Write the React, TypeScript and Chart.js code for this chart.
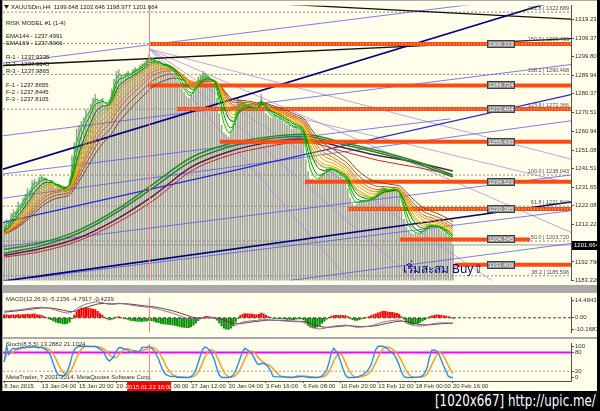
import React, { useEffect, useRef } from 'react';
import { Chart, registerables } from 'chart.js';

Chart.register(...registerables);

const FONT = '"Liberation Sans", Arial, sans-serif';
const CREAM = '#FFFFEC';

// XAUUSDm H4 closes, 8 Jan 2015 – 20 Feb 2015 16:00
const closes: number[] = [
  1213, 1215, 1214, 1218, 1220, 1219, 1224, 1223, 1226, 1228,
  1231, 1230, 1235, 1236, 1234, 1237, 1238, 1236, 1236, 1234,
  1235, 1233, 1231, 1232, 1231, 1229, 1231, 1232, 1236, 1248,
  1255, 1262, 1264, 1266, 1268, 1272, 1271, 1275, 1278, 1280,
  1277, 1276, 1278, 1274, 1275, 1277, 1283, 1288, 1292, 1293,
  1290, 1289, 1291, 1292, 1290, 1293, 1294, 1293, 1295, 1296,
  1297, 1298, 1301, 1299, 1298, 1296, 1297, 1295, 1294, 1295,
  1294, 1293, 1291, 1290, 1287, 1285, 1283, 1281, 1279, 1278,
  1280, 1282, 1286, 1289, 1290, 1292, 1291, 1289, 1287, 1286,
  1285, 1278, 1270, 1264, 1260, 1259, 1258, 1261, 1265, 1272,
  1278, 1277, 1276, 1275, 1273, 1274, 1273, 1272, 1272, 1276,
  1280, 1274, 1270, 1269, 1268, 1268, 1269, 1267, 1267, 1266,
  1265, 1264, 1264, 1262, 1262, 1263, 1262, 1261, 1256, 1246,
  1240, 1236, 1236, 1235, 1235, 1237, 1239, 1240, 1241, 1242,
  1242, 1240, 1239, 1238, 1237, 1236, 1236, 1231, 1226, 1223,
  1222, 1223, 1224, 1224, 1225, 1224, 1225, 1226, 1227, 1228,
  1230, 1231, 1232, 1231, 1230, 1230, 1231, 1231, 1230, 1227,
  1221, 1215, 1211, 1209, 1208, 1207, 1208, 1207, 1208, 1209,
  1210, 1212, 1213, 1212, 1211, 1212, 1210, 1209, 1208, 1207,
  1206, 1204, 1201.664,
];
const lastPrice = 1201.664;
// averages carried in from the bars before 8 Jan
const priorRibbon = 1207;
const priorEma12 = 1206;
const priorEma26 = 1200.5;
const priorSignal = 4.6;

// time axis
const timeTickIdx = [0, 16, 32, 48, 64, 80, 96, 112, 128, 144, 160, 176, 192];
const timeTickLabels = [
  '8 Jan 2015', '13 Jan 04:00', '15 Jan 20:00', '20 Jan 12:00', '23 Jan 00:00',
  '27 Jan 12:00', '30 Jan 04:00', '3 Feb 16:00', '6 Feb 08:00', '10 Feb 20:00',
  '13 Feb 12:00', '18 Feb 00:00', '20 Feb 16:00',
];
const cursorIdx = 62;
const cursorLabel = '2015.01.22 16:00';

// price axis
const priceMin = 1183.2;
const priceMax = 1326.28;
const priceTicks = [
  1319.23, 1309.37, 1299.8, 1289.94, 1280.37, 1270.51, 1260.94, 1251.08,
  1241.51, 1231.65, 1222.08, 1212.22, 1192.79, 1183.22,
];

// slow moving averages, sampled every 16 bars
const slowIdx = [0, 16, 32, 48, 64, 80, 96, 112, 128, 144, 160, 176, 192];
const slowGreenA = [1199.3, 1202.8, 1209.4, 1220.0, 1233.6, 1247.2, 1254.2, 1257.8, 1259.3, 1255.3, 1250.7, 1245.2, 1238.1];
const slowGreenB = [1197.3, 1201.3, 1207.9, 1218.5, 1231.6, 1245.2, 1252.7, 1256.8, 1258.3, 1254.2, 1249.7, 1244.2, 1237.1];
const slowMaroon = [1196.3, 1199.8, 1205.4, 1215.0, 1227.5, 1242.2, 1250.2, 1254.8, 1256.8, 1252.7, 1248.2, 1244.7, 1240.1];
const slowRed = [1195.3, 1198.3, 1203.9, 1213.0, 1225.0, 1240.1, 1248.2, 1252.7, 1255.3, 1250.7, 1245.7, 1242.2, 1238.1];

// fast EMA ribbon
const ribbonPeriods = [3, 5, 8, 10, 12, 15, 18, 21, 25, 30];
const ribbonColors = ['#00D000', '#00A000', '#007000', '#A8A800', '#D8B000', '#F0A000', '#F08000', '#D86800', '#B85010', '#8B4513'];

// support / resistance levels
const levelPrices = [1306.319, 1284.724, 1272.404, 1255.43, 1234.521, 1220.385, 1204.545, 1191.409];
const levelStart = [62.4, 61.5, 73.9, 92.3, 128.7, 147.1, 169.4, 192.9];
const levelEnd = [242.5, 242.5, 242.5, 242.5, 242.5, 242.5, 225, 242.5];
const levelDotted = [true, false, true, false, false, true, false, false];

// fibonacci levels
const fibPrices = [1322.889, 1306.496, 1290.468, 1272.366, 1238.043, 1221.844, 1203.72, 1185.596];
const fibTags = ['161.8', '150.0', '138.2', '123.6', '100.0', '61.8', '50.0', '38.2'];

// trend lines: [bar1, price1, bar2, price2]
const navyLines = [[-0.5, 1241.1, 242.5, 1331.2], [-0.5, 1182.8, 242.5, 1224.0]];
const blackLines = [[-2, 1295.0, 242.5, 1309.1], [110, 1327.6, 242.5, 1319.2]];
const blueLines = [
  [-1.8, 1296.1, 242.5, 1333.4], [-1.8, 1258.3, 242.5, 1295.6], [-0.5, 1238.6, 190.8, 1267.3],
  [-0.5, 1226.0, 242.5, 1266.3], [-0.5, 1200.8, 242.5, 1238.1], [12, 1184.5, 242.5, 1219.5],
  [122.3, 1183.2, 242.5, 1202.4],
];
const steepBlueLines = [[-0.5, 1213.4, 242.5, 1279.9]];
const violetLines = [
  [62.4, 1303.6, 242.5, 1246.3], [62.4, 1303.6, 242.5, 1208.2], [62.4, 1303.6, 211.6, 1180.7],
  [62.4, 1303.6, 178.3, 1180.7], [62.4, 1303.6, 149.3, 1180.7], [96.6, 1276.4, 242.5, 1233.6],
];

// header block
const headerLines = [
  'RISK MODEL #1 (1-4)', 'EMA144 - 1237.4991', 'EMA169 - 1237.8966',
  'R-1 - 1237.9335', 'R-2 - 1237.9545', 'R-3 - 1237.9865',
  'F-1 - 1237.8655', 'F-2 - 1237.8445', 'F-3 - 1237.8105',
];
const headerY = [22, 35, 42, 56, 63, 70, 84, 91, 98];
const symbolLine = 'XAUUSDm,H4  1199.648 1202.646 1198.977 1201.664';
const noteText = 'เริ่มสะสม Buy⇧';

// sub windows
const macdMin = -12.4;
const macdMax = 17.2;
const macdTicks = [-10.1687, 0, 14.4843];
const macdTickLabels = ['-10.1687', '0.00', '14.4843'];
const macdTitle = 'MACD(12,26,9) -5.2156 -4.7917 -0.4239';
const histGain = 3;
const stochTicks = [0, 20, 80, 100];
const stochK_period = 8;
const stochSlowing = 5;
const stochD_period = 5;
const stochTitle = 'Stoch(8,5,5) 13.2882 21.1024';
const copyright = 'MetaTrader, ? 2001-2014, MetaQuotes Software Corp.';

const X_MIN = -0.5;
const X_MAX = 242.5;

function ema(src: number[], period: number, seed: number): number[] {
  const k = 2 / (period + 1);
  let prev = seed;
  return src.map((v) => {
    prev = v * k + prev * (1 - k);
    return prev;
  });
}
function sma(src: number[], period: number): number[] {
  return src.map((_, i) => {
    const win = src.slice(Math.max(0, i - period + 1), i + 1);
    return win.reduce((s, v) => s + v, 0) / win.length;
  });
}

// MACD(12,26,9)
const ema12 = ema(closes, 12, priorEma12);
const ema26 = ema(closes, 26, priorEma26);
const macdMain = ema12.map((v, i) => v - ema26[i]);
const macdSignal = ema(macdMain, 9, priorSignal);
const macdHist = macdMain.map((v, i) => (v - macdSignal[i]) * histGain);

// Stochastic on closes
const rawNum: number[] = [];
const rawDen: number[] = [];
closes.forEach((c, i) => {
  const win = closes.slice(Math.max(0, i - stochK_period + 1), i + 1);
  const lo = Math.min(...win);
  rawNum.push(c - lo);
  rawDen.push(Math.max(...win) - lo);
});
const numS = sma(rawNum, stochSlowing);
const denS = sma(rawDen, stochSlowing);
const stochK = numS.map((n, i) => (denS[i] > 0 ? (100 * n) / denS[i] : 50));
const stochD = sma(stochK, stochD_period);

const pts = (arr: number[]) => arr.map((y, x) => ({ x, y }));
const sparse = (xs: number[], ys: number[]) => xs.map((x, i) => ({ x, y: ys[i] }));
const seg = (l: number[]) => [{ x: l[0], y: l[1] }, { x: l[2], y: l[3] }];
const hline = (v: number) => [{ x: X_MIN, y: v }, { x: X_MAX, y: v }];

const line = (data: any[], color: string, width: number, order: number, extra: any = {}) => ({
  type: 'line',
  data,
  borderColor: color,
  borderWidth: width,
  pointRadius: 0,
  fill: false,
  tension: 0,
  order,
  ...extra,
});

const xHidden = {
  type: 'linear',
  min: X_MIN,
  max: X_MAX,
  offset: false,
  grid: { offset: false },
  display: false,
};

const rightAxis = (min: number, max: number, ticks: number[], fmt: (v: number) => string) => ({
  type: 'linear',
  position: 'right',
  min,
  max,
  afterBuildTicks: (s: any) => {
    s.ticks = ticks.map((value) => ({ value }));
  },
  afterFit: (s: any) => {
    s.width = 26;
  },
  ticks: {
    autoSkip: false,
    padding: 1,
    color: '#303030',
    font: { size: 6, family: FONT },
    callback: (v: number) => fmt(v),
  },
  grid: { drawOnChartArea: false, tickLength: 3, color: '#505050' },
  border: { color: '#505050' },
});

const drawCursor = (chart: any, bottom?: number) => {
  const { ctx, chartArea: a, scales } = chart;
  const cx = Math.round(scales.x.getPixelForValue(cursorIdx)) + 0.5;
  ctx.save();
  ctx.strokeStyle = '#FF8080';
  ctx.lineWidth = 1;
  ctx.beginPath();
  ctx.moveTo(cx, a.top);
  ctx.lineTo(cx, bottom ?? a.bottom);
  ctx.stroke();
  ctx.restore();
};

const mainOverlay = {
  id: 'mainOverlay',
  afterDatasetsDraw(chart: any) {
    const { ctx, chartArea: a, scales } = chart;
    const y = scales.y;
    drawCursor(chart);
    ctx.save();
    // fibonacci captions
    ctx.font = `5.5px ${FONT}`;
    ctx.fillStyle = '#505050';
    ctx.textAlign = 'right';
    ctx.textBaseline = 'bottom';
    fibPrices.forEach((p, i) => {
      ctx.fillText(`${fibTags[i]} | ${p.toFixed(3)}`, a.right - 2, y.getPixelForValue(p) - 1);
    });
    // level price tags
    ctx.font = `6px ${FONT}`;
    ctx.textAlign = 'center';
    ctx.textBaseline = 'middle';
    levelPrices.forEach((p) => {
      const py = Math.round(y.getPixelForValue(p));
      ctx.fillStyle = '#8E8E8E';
      ctx.fillRect(484, py - 4, 28, 8);
      ctx.strokeStyle = '#404040';
      ctx.lineWidth = 1;
      ctx.strokeRect(484.5, py - 3.5, 27, 7);
      ctx.fillStyle = '#FFFFFF';
      ctx.fillText(p.toFixed(3), 498, py + 0.5);
    });
    // header
    ctx.fillStyle = '#202020';
    ctx.textAlign = 'left';
    ctx.font = `6px ${FONT}`;
    ctx.beginPath();
    ctx.moveTo(1, 4);
    ctx.lineTo(6, 4);
    ctx.lineTo(3.5, 8);
    ctx.closePath();
    ctx.fill();
    ctx.fillText(symbolLine, 8, 6.5);
    headerLines.forEach((t, i) => ctx.fillText(t, 3, headerY[i]));
    // note
    ctx.font = `12px "Noto Sans", "DejaVu Sans", sans-serif`;
    ctx.fillStyle = '#000080';
    ctx.fillText(noteText, 400, 269);
    ctx.restore();
  },
  afterDraw(chart: any) {
    const { ctx, chartArea: a, scales } = chart;
    const py = Math.round(scales.y.getPixelForValue(lastPrice));
    ctx.save();
    ctx.fillStyle = '#000000';
    ctx.fillRect(a.right + 1, py - 4, 26, 9);
    ctx.fillStyle = '#FFFFFF';
    ctx.font = `6px ${FONT}`;
    ctx.textAlign = 'left';
    ctx.textBaseline = 'middle';
    ctx.fillText(lastPrice.toFixed(3), a.right + 3, py + 0.5);
    ctx.restore();
  },
};

const macdOverlay = {
  id: 'macdOverlay',
  afterDatasetsDraw(chart: any) {
    const { ctx } = chart;
    drawCursor(chart);
    ctx.save();
    ctx.font = `6px ${FONT}`;
    ctx.fillStyle = '#303030';
    ctx.textBaseline = 'middle';
    ctx.fillText(macdTitle, 3, 6);
    ctx.restore();
  },
};

const stochOverlay = {
  id: 'stochOverlay',
  afterDraw(chart: any) {
    const { ctx, chartArea: a, scales } = chart;
    drawCursor(chart, chart.height);
    const cx = scales.x.getPixelForValue(cursorIdx);
    ctx.save();
    ctx.font = `6px ${FONT}`;
    ctx.fillStyle = '#303030';
    ctx.textBaseline = 'middle';
    ctx.fillText(stochTitle, 3, 5);
    ctx.fillText(copyright, 3, a.bottom - 4);
    ctx.fillStyle = '#FF0000';
    ctx.fillRect(cx - 22, a.bottom + 1, 44, 10);
    ctx.fillStyle = '#FFFFFF';
    ctx.textAlign = 'center';
    ctx.fillText(cursorLabel, cx, a.bottom + 6);
    ctx.restore();
  },
};

const baseOptions = {
  animation: false,
  responsive: false,
  events: [],
  layout: { padding: 0 },
  plugins: { legend: { display: false }, tooltip: { enabled: false } },
};

function mainConfig(): any {
  const ds: any[] = [];
  ribbonPeriods.forEach((p, i) => ds.push(line(pts(ema(closes, p, priorRibbon)), ribbonColors[i], 1, 1 + i)));
  levelPrices.forEach((p, i) => {
    const d = [{ x: levelStart[i], y: p }, { x: levelEnd[i], y: p }];
    ds.push(line(d, '#FF4A12', 4, 21));
    if (levelDotted[i]) ds.push(line(d, '#FFE0B0', 1, 20, { borderDash: [1, 2] }));
  });
  const smooth = { cubicInterpolationMode: 'monotone' };
  ds.push(line(sparse(slowIdx, slowGreenA), '#1F8F1F', 1.5, 25, smooth));
  ds.push(line(sparse(slowIdx, slowGreenB), '#2E7D32', 1.5, 25, smooth));
  ds.push(line(sparse(slowIdx, slowMaroon), '#5A2040', 1.5, 25, smooth));
  ds.push(line(sparse(slowIdx, slowRed), '#D02030', 1, 25, smooth));
  navyLines.forEach((l) => ds.push(line(seg(l), '#000080', 1.6, 30)));
  blackLines.forEach((l) => ds.push(line(seg(l), '#101010', 1.3, 30)));
  steepBlueLines.forEach((l) => ds.push(line(seg(l), '#2828E0', 1.3, 31)));
  blueLines.forEach((l) => ds.push(line(seg(l), '#5A5AF0', 0.8, 32)));
  violetLines.forEach((l) => ds.push(line(seg(l), '#B38CE0', 0.8, 33)));
  fibPrices.forEach((p) => ds.push(line(hline(p), '#8A8A8A', 1, 40, { borderDash: [2, 2] })));
  ds.push(line(hline(lastPrice), '#9A9A9A', 1, 41));
  ds.push({
    type: 'bar',
    data: pts(closes),
    backgroundColor: '#A4A49C',
    barThickness: 1,
    order: 50,
  });
  return {
    type: 'line',
    data: { datasets: ds },
    options: {
      ...baseOptions,
      scales: {
        x: xHidden,
        y: rightAxis(priceMin, priceMax, priceTicks, (v) => v.toFixed(3)),
      },
    },
    plugins: [mainOverlay],
  };
}

function macdConfig(): any {
  return {
    type: 'line',
    data: {
      datasets: [
        line(pts(macdMain), '#8070A8', 1, 1),
        line(pts(macdSignal), '#7A2E2E', 1, 2),
        line(hline(0), '#404040', 1, 5, { borderDash: [3, 2] }),
        {
          type: 'bar',
          data: pts(macdHist),
          backgroundColor: macdHist.map((v) => (v >= 0 ? '#FF0000' : '#009000')),
          barThickness: 1.4,
          order: 10,
        },
      ],
    },
    options: {
      ...baseOptions,
      scales: {
        x: xHidden,
        y: rightAxis(macdMin, macdMax, macdTicks, (v) => macdTickLabels[macdTicks.indexOf(v)] ?? ''),
      },
    },
    plugins: [macdOverlay],
  };
}

function stochConfig(): any {
  return {
    type: 'line',
    data: {
      datasets: [
        line(pts(stochK), '#2A8CF0', 1.4, 1),
        line(pts(stochD), '#F39A1E', 1.4, 2),
        line(hline(80), '#FF00FF', 2, 5),
        line(hline(20), '#9A9A9A', 1, 6, { borderDash: [2, 2] }),
      ],
    },
    options: {
      ...baseOptions,
      scales: {
        x: {
          type: 'linear',
          min: X_MIN,
          max: X_MAX,
          offset: false,
          position: 'bottom',
          afterBuildTicks: (s: any) => {
            s.ticks = timeTickIdx.map((value) => ({ value }));
          },
          afterFit: (s: any) => {
            s.height = 10;
          },
          ticks: {
            autoSkip: false,
            maxRotation: 0,
            align: 'start',
            padding: 0,
            color: '#303030',
            font: { size: 6, family: FONT },
            callback: (v: number) => timeTickLabels[timeTickIdx.indexOf(v)] ?? '',
          },
          grid: { drawOnChartArea: false, offset: false, tickLength: 2, color: '#505050' },
          border: { color: '#505050' },
        },
        y: rightAxis(-11.43, 108.57, stochTicks, (v) => String(v)),
      },
    },
    plugins: [stochOverlay],
  };
}

const abs = (left: number, top: number, width: number, height: number, background?: string): React.CSSProperties => ({
  position: 'absolute',
  left,
  top,
  width,
  height,
  background,
});

export default function App() {
  const mainRef = useRef<HTMLCanvasElement>(null);
  const macdRef = useRef<HTMLCanvasElement>(null);
  const stochRef = useRef<HTMLCanvasElement>(null);

  useEffect(() => {
    const charts = [
      new Chart(mainRef.current!, mainConfig()),
      new Chart(macdRef.current!, macdConfig()),
      new Chart(stochRef.current!, stochConfig()),
    ];
    return () => charts.forEach((c) => c.destroy());
  }, []);

  return (
    <div style={{ position: 'fixed', left: 0, top: 0, width: 600, height: 411, background: '#000', overflow: 'hidden' }}>
      <div style={abs(2, 0, 595, 391, '#A9A9A9')} />
      <div style={abs(3, 1, 594, 284, CREAM)} />
      <div style={abs(3, 293, 594, 44, CREAM)} />
      <div style={abs(3, 339, 594, 52, CREAM)} />
      <canvas ref={mainRef} width={594} height={284} style={abs(3, 1, 594, 284)} />
      <canvas ref={macdRef} width={594} height={44} style={abs(3, 293, 594, 44)} />
      <canvas ref={stochRef} width={594} height={52} style={abs(3, 339, 594, 52)} />
      <div
        style={{
          position: 'absolute',
          right: 4,
          top: 392,
          color: '#FFFFFF',
          font: '15px "DejaVu Sans Condensed", "Liberation Sans Narrow", sans-serif',
          lineHeight: '18px',
          whiteSpace: 'nowrap',
          transform: 'scaleX(0.88)',
          transformOrigin: 'right center',
        }}
      >
        [1020x667] http://upic.me/
      </div>
    </div>
  );
}
